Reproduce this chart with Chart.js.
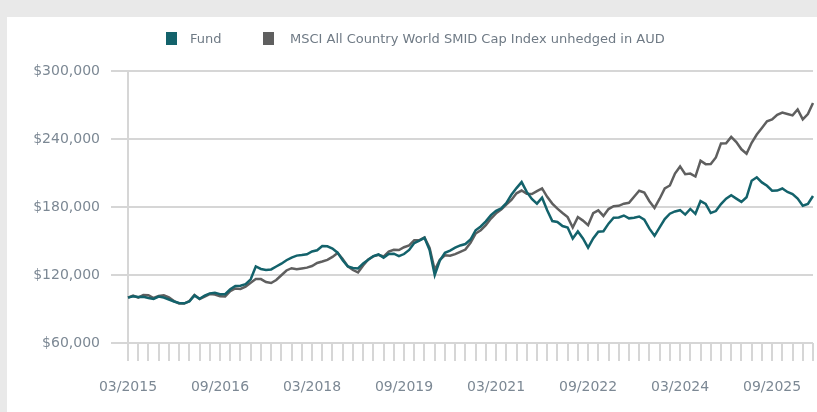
<!DOCTYPE html>
<html>
<head>
<meta charset="utf-8">
<script src="https://cdn.jsdelivr.net/npm/chart.js@4"></script>
<style>
  html, body { margin: 0; padding: 0; background: #e9e9e9; }
  body { width: 817px; height: 412px; overflow: hidden; position: relative; font-family: "DejaVu Sans", Verdana, sans-serif; }
  #panel { position: absolute; left: 7px; top: 17px; width: 810px; height: 395px; background: #fff; }
  #calChart { position: absolute; left: 0; top: 0; }
  .lg-box { position: absolute; top: 15px; width: 11px; height: 13px; }
  .lg-text { position: absolute; top: 14px; font-size: 13px; line-height: 15px; color: #6f7a85; white-space: nowrap; }
</style>
</head>
<body>
<div id="panel">
  <canvas id="calChart" width="810" height="395"></canvas>
  <span class="lg-box" style="left:159px;background:#13626b"></span>
  <span class="lg-text" style="left:183px">Fund</span>
  <span class="lg-box" style="left:256px;background:#5f5f5f"></span>
  <span class="lg-text" style="left:283px">MSCI All Country World SMID Cap Index unhedged in AUD</span>
</div>
<script>
// monthly growth of $100,000, 03/2015 onwards
const fund = [
  100000, 101200, 100600, 100800, 99700, 98900, 101000, 100100, 98400, 96600,
  95300, 95000, 96600, 102000, 99000, 101900, 103800, 104300, 103100, 103000,
  107400, 110400, 110600, 111900, 116200, 127500, 125300, 124400, 124900, 127500,
  130000, 133000, 135400, 137100, 137600, 138300, 140800, 141800, 145600, 145300,
  143400, 139700, 133000, 127600, 126200, 125800, 130200, 133400, 136700, 138100,
  135300, 138500, 138800, 136600, 138500, 142100, 148200, 150400, 152800, 142000,
  120000, 132800, 139600, 141600, 144100, 146100, 147300, 151300, 159500, 162800,
  167300, 172800, 176600, 178800, 183500, 190800, 196700, 202000, 193300, 187100,
  183000, 188200, 177100, 167600, 166800, 163200, 161900, 152200, 158400, 152200,
  144200, 152300, 158200, 158600, 165300, 170500, 170800, 172500, 170000, 170600,
  171600, 168800, 160900, 154600, 162100, 169400, 174100, 176100, 177200, 173300,
  178300, 174000, 185200, 182800, 174700, 176400, 182600, 187400, 190400, 187400,
  184500, 188600, 203200, 206200, 201700, 198700, 194400, 194500, 196300, 193300,
  191500, 187500, 181100, 182700, 189700
];
const benchmark = [
  100000, 101900, 100000, 102400, 102200, 99700, 101600, 102200, 100200, 97000,
  94800, 94800, 97000, 102300, 98800, 101000, 103200, 102800, 101200, 101100,
  105800, 108100, 107700, 109800, 113200, 116400, 116400, 113800, 112900, 115600,
  119800, 124000, 126000, 125000, 125700, 126500, 127900, 130600, 131900, 133400,
  136000, 139500, 134100, 127600, 124400, 122300, 128400, 133800, 136400, 137800,
  136300, 140700, 142300, 142000, 144500, 146100, 150700, 150800, 153100, 143800,
  124400, 133500, 137400, 137000, 138400, 140400, 142400, 148500, 156600, 159500,
  164000, 169800, 174400, 177700, 182200, 186200, 192100, 194500, 191600, 191400,
  194000, 196400, 189000, 183000, 178500, 174700, 171100, 161900, 171100, 168000,
  164000, 174500, 177000, 172100, 178200, 180700, 181000, 182900, 183700, 189100,
  194300, 192800, 185100, 179200, 187300, 196400, 199000, 209500, 215800, 208900,
  209500, 206900, 220800, 217800, 217900, 223700, 236100, 236200, 241800, 237300,
  230900, 227000, 236700, 243900, 249700, 255700, 257300, 261400, 263300, 262100,
  260800, 266000, 257400, 262000, 271700
];
const xTickLabels = ['03/2015', '09/2016', '03/2018', '09/2019', '03/2021', '09/2022', '03/2024', '09/2025'];
const yTicks = [60000, 120000, 180000, 240000, 300000];

const months = fund.map((_, i) => {
  const m = (2 + i) % 12 + 1;
  const y = 2015 + Math.floor((2 + i) / 12);
  return String(m).padStart(2, '0') + '/' + y;
});

(function() {
  const canvas = document.getElementById('calChart');
  const gridCol = '#d6d6d6';
  const tickCol = '#7c8894';
  const tickFont = { family: '"DejaVu Sans", Verdana, sans-serif', size: 14 };

  new Chart(canvas.getContext('2d'), {
    type: 'line',
    data: {
      labels: months,
      datasets: [
        { label: 'Fund', data: fund, borderColor: '#13626b', backgroundColor: '#13626b',
          borderWidth: 2.5, pointRadius: 0, tension: 0, fill: false },
        { label: 'MSCI All Country World SMID Cap Index unhedged in AUD', data: benchmark,
          borderColor: '#5f5f5f', backgroundColor: '#5f5f5f',
          borderWidth: 2.5, pointRadius: 0, tension: 0, fill: false }
      ]
    },
    options: {
      responsive: false,
      animation: false,
      devicePixelRatio: 1,
      layout: { padding: { top: 54, right: 4, left: 0, bottom: 0 } },
      plugins: { legend: { display: false }, tooltip: { enabled: false } },
      scales: {
        x: {
          grid: { display: true, drawOnChartArea: false, drawTicks: true, tickLength: 18, color: gridCol, lineWidth: 2 },
          border: { display: false },
          afterBuildTicks: s => { s.ticks = s.ticks.filter(t => t.value % 2 === 0); },
          afterFit: s => { s.height = 69; s.paddingLeft = 0; s.paddingRight = 0; },
          ticks: {
            autoSkip: false, maxRotation: 0, color: tickCol, font: tickFont, padding: 18,
            callback: v => xTickLabels.includes(months[v]) ? months[v] : ''
          }
        },
        y: {
          min: yTicks[0], max: yTicks[yTicks.length - 1],
          grid: { color: gridCol, lineWidth: 2, tickLength: 17 },
          border: { display: true, color: gridCol, width: 2 },
          afterBuildTicks: s => { s.ticks = yTicks.map(v => ({ value: v })); },
          afterFit: s => { s.width = 121; },
          ticks: {
            color: tickCol, font: tickFont, padding: 11,
            callback: v => '$' + Number(v).toLocaleString('en-US')
          }
        }
      }
    }
  });
})();
</script>
</body>
</html>
